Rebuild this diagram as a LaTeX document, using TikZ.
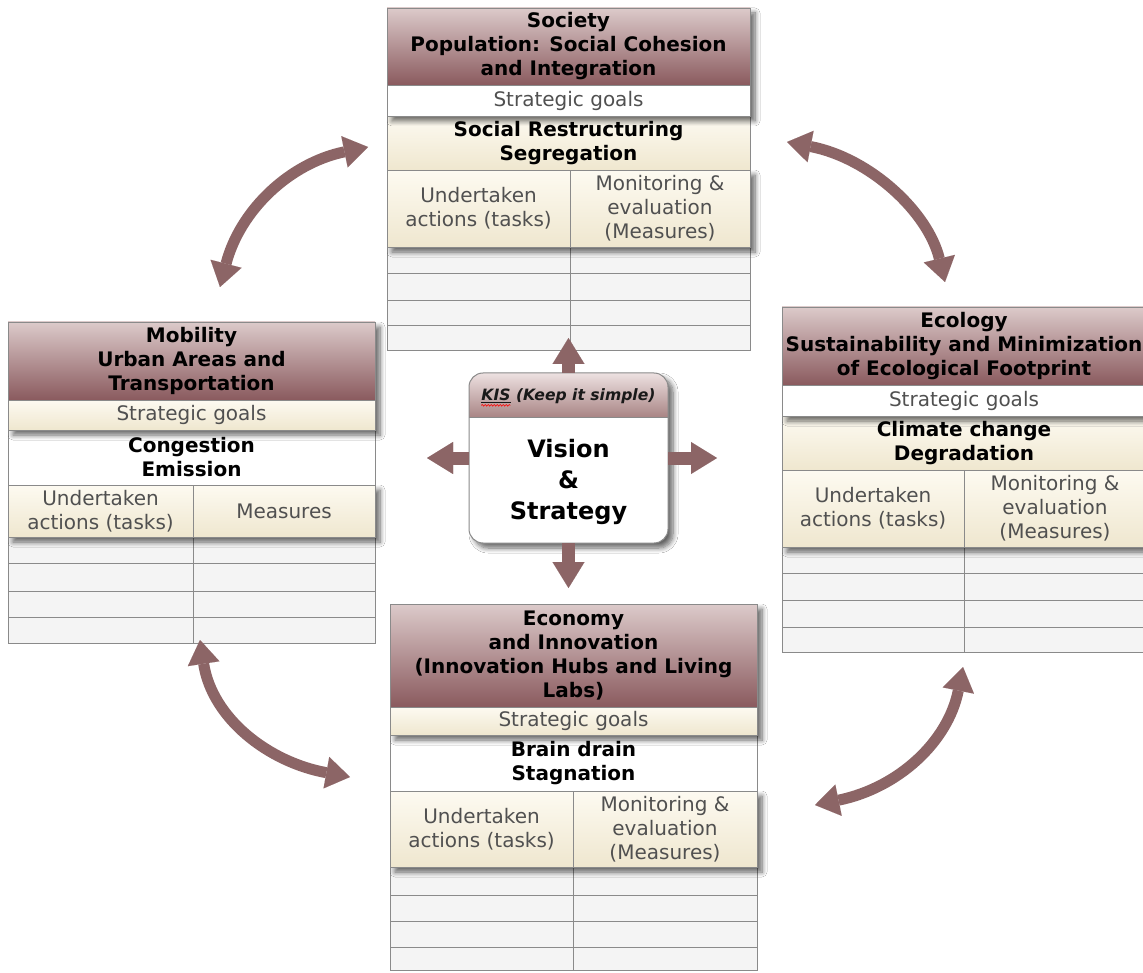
\documentclass[tikz,border=0pt]{standalone}
\usepackage{fontspec}
\setmainfont{DejaVu Sans}
\usetikzlibrary{arrows.meta,fit,shadows.blur,decorations.pathmorphing}
\definecolor{arr}{HTML}{8C6566}
\definecolor{headtop}{HTML}{DCCACA}
\definecolor{headbot}{HTML}{8A5A5E}
\definecolor{creamtop}{HTML}{FDFAF1}
\definecolor{creambot}{HTML}{EFE7CF}
\definecolor{rowfill}{HTML}{F4F4F4}
\definecolor{edge}{HTML}{8A8A8A}
\definecolor{txtgray}{HTML}{505050}
\definecolor{kistop}{HTML}{EDE1E1}
\definecolor{kisbot}{HTML}{A98585}
\tikzset{
 base/.style={inner sep=0pt, outer sep=0pt, draw=edge, line width=0.8pt},
 headcell/.style={base, top color=headtop, bottom color=headbot},
 cream/.style={base, top color=creamtop, bottom color=creambot},
 plain/.style={base, fill=white},
 txt/.style={inner sep=0pt, outer sep=0pt, align=center, font=\fontsize{20}{24}\selectfont},
 graytxt/.style={txt, text=txtgray},
 boldtxt/.style={txt, font=\fontsize{20}{24}\selectfont\bfseries, text=black},
 rowcell/.style={base, fill=rowfill},
 shadowbox/.style={inner sep=0pt, outer sep=0pt, fill=white, blur shadow={shadow xshift=5pt, shadow yshift=-5pt, shadow blur steps=8, shadow blur radius=5pt, shadow opacity=60}},
 bigarrow/.style={draw=arr, line width=13pt, -{Triangle[length=26pt,width=32pt,line width=0.01pt]}},
 curvarrow/.style={draw=arr, line width=11pt, {Triangle[length=24pt,width=32pt,line width=0.01pt]}-{Triangle[length=24pt,width=32pt,line width=0.01pt]}},
}
% #1 box style, #2 fit corners, #3 name, #4 text style, #5 text
\newcommand\mycell[5]{\node[#1, fit={#2}] (#3) {}; \node[#4] at (#3.center) {#5};}
\begin{document}
\begin{tikzpicture}[x=1pt,y=-1pt]
\fill[white] (0,0) rectangle (1143,973);
\useasboundingbox (0,0) rectangle (1143,973);

% ================= Society =================
\foreach \a/\b/\n in {247/273/1,273/300/2,300/325/3,325/350/4}{
  \node[rowcell, fit={(387,\a)(570,\b)}] (soc-r\n-l) {};
  \node[rowcell, fit={(570,\a)(750,\b)}] (soc-r\n-r) {};
}
\node[shadowbox, fit={(387,170)(750,247)}] (soc-sh2) {};
\mycell{cream}{(387,170)(570,247)}{soc-act}{graytxt}{Undertaken\\actions (tasks)}
\mycell{cream}{(570,170)(750,247)}{soc-mon}{graytxt}{Monitoring \&\\evaluation\\(Measures)}
\mycell{cream}{(387,116)(750,170)}{soc-goal}{boldtxt}{Social Restructuring\\Segregation}
\node[shadowbox, fit={(387,8)(750,116)}] (soc-sh1) {};
\mycell{headcell}{(387,8)(750,85)}{soc-head}{boldtxt}{Society\\Population: Social Cohesion\\and Integration}
\mycell{plain}{(387,85)(750,116)}{soc-sg}{graytxt}{Strategic goals}

% ================= Mobility =================
\foreach \a/\b/\n in {537/563/1,563/591/2,591/617/3,617/643/4}{
  \node[rowcell, fit={(8,\a)(193,\b)}] (mob-r\n-l) {};
  \node[rowcell, fit={(193,\a)(375,\b)}] (mob-r\n-r) {};
}
\node[shadowbox, fit={(8,485)(375,537)}] (mob-sh2) {};
\mycell{cream}{(8,485)(193,537)}{mob-act}{graytxt}{Undertaken\\actions (tasks)}
\mycell{cream}{(193,485)(375,537)}{mob-mon}{graytxt}{Measures}
\mycell{plain}{(8,430)(375,485)}{mob-goal}{boldtxt}{Congestion\\Emission}
\node[shadowbox, fit={(8,322)(375,430)}] (mob-sh1) {};
\mycell{headcell}{(8,322)(375,400)}{mob-head}{boldtxt}{Mobility\\Urban Areas and\\Transportation}
\mycell{cream}{(8,400)(375,430)}{mob-sg}{graytxt}{Strategic goals}

% ================= Ecology =================
\foreach \a/\b/\n in {547/573/1,573/600/2,600/627/3,627/652/4}{
  \node[rowcell, fit={(782,\a)(964,\b)}] (eco-r\n-l) {};
  \node[rowcell, fit={(964,\a)(1146,\b)}] (eco-r\n-r) {};
}
\node[shadowbox, fit={(782,470)(1146,547)}] (eco-sh2) {};
\mycell{cream}{(782,470)(964,547)}{eco-act}{graytxt}{Undertaken\\actions (tasks)}
\mycell{cream}{(964,470)(1146,547)}{eco-mon}{graytxt}{Monitoring \&\\evaluation\\(Measures)}
\mycell{cream}{(782,416)(1146,470)}{eco-goal}{boldtxt}{Climate change\\Degradation}
\node[shadowbox, fit={(782,307)(1146,416)}] (eco-sh1) {};
\mycell{headcell}{(782,307)(1146,385)}{eco-head}{boldtxt}{Ecology\\Sustainability and Minimization\\of Ecological Footprint}
\mycell{plain}{(782,385)(1146,416)}{eco-sg}{graytxt}{Strategic goals}

% ================= Economy =================
\foreach \a/\b/\n in {867/895/1,895/921/2,921/947/3,947/970/4}{
  \node[rowcell, fit={(390,\a)(573,\b)}] (ecn-r\n-l) {};
  \node[rowcell, fit={(573,\a)(757,\b)}] (ecn-r\n-r) {};
}
\node[shadowbox, fit={(390,791)(757,867)}] (ecn-sh2) {};
\mycell{cream}{(390,791)(573,867)}{ecn-act}{graytxt}{Undertaken\\actions (tasks)}
\mycell{cream}{(573,791)(757,867)}{ecn-mon}{graytxt}{Monitoring \&\\evaluation\\(Measures)}
\mycell{plain}{(390,735)(757,791)}{ecn-goal}{boldtxt}{Brain drain\\Stagnation}
\node[shadowbox, fit={(390,604)(757,735)}] (ecn-sh1) {};
\mycell{headcell}{(390,604)(757,707)}{ecn-head}{boldtxt}{Economy\\and Innovation\\(Innovation Hubs and Living\\Labs)}
\mycell{cream}{(390,707)(757,735)}{ecn-sg}{graytxt}{Strategic goals}

% ================= Centre =================
\node[shadowbox, rounded corners=14pt, fit={(469,373)(668,543)}] (vis) {};
\begin{scope}
  \clip[rounded corners=14pt] (469,373) rectangle (668,543);
  \shade[top color=kistop, bottom color=kisbot] (469,373) rectangle (668,417);
  \draw[edge, line width=0.8pt] (469,417) -- (668,417);
\end{scope}
\draw[edge, line width=1pt, rounded corners=14pt] (vis.north west) rectangle (vis.south east);
\node[inner sep=0pt, font=\fontsize{15.6}{19}\selectfont\bfseries\itshape, text=black!90] (kis) at (568.5,396) {\underline{KIS} (Keep it simple)};
\draw[red, line width=0.6pt, decorate, decoration={snake, amplitude=0.8pt, segment length=3pt}] ([yshift=-5pt]kis.base west) -- ++(29,0);
\node[inner sep=0pt, align=center, font=\fontsize{24}{31}\selectfont\bfseries] (vs) at (568.5,482) {Vision\\\&\\Strategy};

% straight arrows
\coordinate (tipN) at (568.5,338);
\coordinate (tipS) at (568.5,588);
\coordinate (tipW) at (427,458);
\coordinate (tipE) at (717,458);
\draw[bigarrow] (vis.north) -- (tipN);
\draw[bigarrow] (vis.south) -- (tipS);
\draw[bigarrow] (vis.west) -- (tipW);
\draw[bigarrow] (vis.east) -- (tipE);

% curved arrows
\coordinate (c1a) at (220,287); \coordinate (c1b) at (368,147);
\coordinate (c2a) at (787,142); \coordinate (c2b) at (945,282);
\coordinate (c3a) at (200,640); \coordinate (c3b) at (350,777);
\coordinate (c4a) at (963,667); \coordinate (c4b) at (815,805);
\draw[curvarrow] (c1a) .. controls (240,210) and (290,163) .. (c1b);
\draw[curvarrow] (c2a) .. controls (870,158) and (928,212) .. (c2b);
\draw[curvarrow] (c3a) .. controls (212,718) and (268,762) .. (c3b);
\draw[curvarrow] (c4a) .. controls (948,742) and (898,788) .. (c4b);
\end{tikzpicture}
\end{document}
